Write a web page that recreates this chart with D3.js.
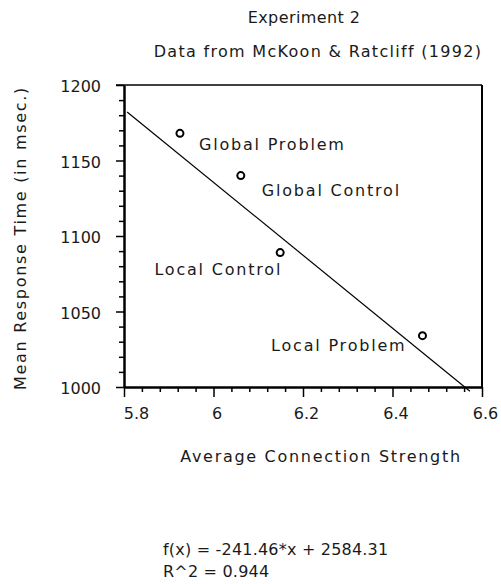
<!DOCTYPE html>
<html>
<head>
<meta charset="utf-8">
<script src="https://cdn.jsdelivr.net/npm/d3@7"></script>
<style>
	body { margin: 0; background: #fff; }
	svg { display: block; }
	.axis path, .axis line { stroke: #000; }
</style>
</head>
<body>
<div class="chart"></div>
<script>
	// Values.
	var conditions = ['Global Problem', 'Global Control', 'Local Control', 'Local Problem'],
		strength = [5.925, 6.061, 6.149, 6.467],
		responseTime = [1168, 1140, 1089, 1034],
		xTicks = [5.8, 6, 6.2, 6.4, 6.6],
		yTicks = [1000, 1050, 1100, 1150, 1200],
		fitSlope = -241.46,
		fitIntercept = 2584.31,
		fitR2 = 0.944,
		fitRange = [5.807, 6.573];

	var width = 501,
		height = 584,
		fontFamily = 'DejaVu Sans, sans-serif',
		textColor = '#1a1a1a';
	var plot = {left: 124, right: 482, top: 85, bottom: 387};

	// label placement next to each point (pixels)
	var labelOffsets = [
		{dx: 19, dy: 17, anchor: 'start'},
		{dx: 21, dy: 20, anchor: 'start'},
		{dx: 2, dy: 22, anchor: 'end'},
		{dx: -16, dy: 15, anchor: 'end'}
	];

	var x = d3.scaleLinear().domain([5.8, 6.6]).range([plot.left, plot.right]);
	var y = d3.scaleLinear().domain([1000, 1200]).range([plot.bottom, plot.top]);

	var svg = d3.select('.chart').append('svg')
		.attr('width', width)
		.attr('height', height)
		.attr('font-family', fontFamily)
		.attr('fill', textColor);

	svg.append('rect').attr('width', width).attr('height', height).attr('fill', '#fff');

	// Titles
	svg.append('text')
		.attr('x', 304).attr('y', 23)
		.attr('text-anchor', 'middle')
		.attr('font-size', '16px')
		.attr('letter-spacing', '0.4px')
		.text('Experiment 2');
	svg.append('text')
		.attr('x', 318).attr('y', 57)
		.attr('text-anchor', 'middle')
		.attr('font-size', '16px')
		.attr('letter-spacing', '1.3px')
		.text('Data from McKoon & Ratcliff (1992)');

	// Box top and right edges
	svg.append('line')
		.attr('x1', x(5.8) - 8).attr('x2', x(6.6))
		.attr('y1', y(1200)).attr('y2', y(1200))
		.attr('stroke', '#000').attr('stroke-width', 1.5);
	svg.append('line')
		.attr('x1', x(6.6)).attr('x2', x(6.6))
		.attr('y1', y(1200)).attr('y2', y(1000))
		.attr('stroke', '#000').attr('stroke-width', 2);

	// Minor ticks
	var yMinor = d3.range(1000, 1201, 10).filter(function(v) { return v % 50 !== 0; });
	var xMinor = d3.range(0, 21).map(function(i) { return 5.8 + i * 0.04; })
		.filter(function(v, i) { return i % 5 !== 0; });
	svg.append('g')
		.attr('class', 'axis')
		.attr('transform', 'translate(' + plot.left + ',0)')
		.call(d3.axisLeft(y).tickValues(yMinor).tickSize(5).tickFormat(''))
		.call(function(g) { g.select('.domain').remove(); })
		.selectAll('line').attr('stroke-width', 1.5);
	svg.append('g')
		.attr('class', 'axis')
		.attr('transform', 'translate(0,' + plot.bottom + ')')
		.call(d3.axisBottom(x).tickValues(xMinor).tickSize(5).tickFormat(''))
		.call(function(g) { g.select('.domain').remove(); })
		.selectAll('line').attr('stroke-width', 1.5);

	// Major axes
	var yAxis = svg.append('g')
		.attr('class', 'axis')
		.attr('transform', 'translate(' + plot.left + ',0)')
		.call(d3.axisLeft(y).tickValues(yTicks).tickSize(8).tickSizeOuter(0).tickPadding(15)
			.tickFormat(d3.format('d')));
	yAxis.select('.domain').attr('stroke-width', 2.5);
	yAxis.selectAll('line').attr('stroke-width', 1.5);
	yAxis.selectAll('text')
		.attr('font-family', fontFamily)
		.attr('font-size', '16px')
		.attr('fill', textColor)
		.attr('dy', '0.42em');

	var xAxis = svg.append('g')
		.attr('class', 'axis')
		.attr('transform', 'translate(0,' + plot.bottom + ')')
		.call(d3.axisBottom(x).tickValues(xTicks).tickSize(10).tickSizeOuter(0).tickPadding(8)
			.tickFormat(d3.format('~g')));
	xAxis.select('.domain').attr('stroke-width', 2.5);
	xAxis.selectAll('line').attr('stroke-width', 1.5);
	xAxis.selectAll('text')
		.attr('font-family', fontFamily)
		.attr('font-size', '16px')
		.attr('fill', textColor)
		.attr('dx', function(d) { return d === 5.8 ? 12 : 3; })
		.attr('dy', '0.9em');

	// Axis labels
	svg.append('text')
		.attr('transform', 'translate(26,238) rotate(-90)')
		.attr('text-anchor', 'middle')
		.attr('font-size', '16px')
		.attr('letter-spacing', '1.7px')
		.text('Mean Response Time (in msec.)');
	svg.append('text')
		.attr('x', 321).attr('y', 462)
		.attr('text-anchor', 'middle')
		.attr('font-size', '16px')
		.attr('letter-spacing', '1.7px')
		.text('Average Connection Strength');

	// Regression line
	svg.append('line')
		.attr('x1', x(fitRange[0])).attr('y1', y(fitSlope * fitRange[0] + fitIntercept))
		.attr('x2', x(fitRange[1])).attr('y2', y(fitSlope * fitRange[1] + fitIntercept))
		.attr('stroke', '#000').attr('stroke-width', 1.2);

	// Points and their labels
	conditions.forEach(function(c, i) {
		var cx = x(strength[i]), cy = y(responseTime[i]);
		svg.append('circle')
			.attr('cx', cx).attr('cy', cy).attr('r', 3.5)
			.attr('fill', 'none').attr('stroke', '#000').attr('stroke-width', 2);
		svg.append('text')
			.attr('x', cx + labelOffsets[i].dx)
			.attr('y', cy + labelOffsets[i].dy)
			.attr('text-anchor', labelOffsets[i].anchor)
			.attr('font-size', '16px')
			.attr('letter-spacing', '1.8px')
			.text(c);
	});

	// Fit equation
	svg.append('text')
		.attr('x', 163).attr('y', 555)
		.attr('font-size', '16px')
		.attr('letter-spacing', '0.2px')
		.text('f(x) = ' + fitSlope + '*x + ' + fitIntercept);
	svg.append('text')
		.attr('x', 163).attr('y', 577)
		.attr('font-size', '16px')
		.attr('letter-spacing', '0.2px')
		.text('R^2 = ' + fitR2);
</script>
</body>
</html>
